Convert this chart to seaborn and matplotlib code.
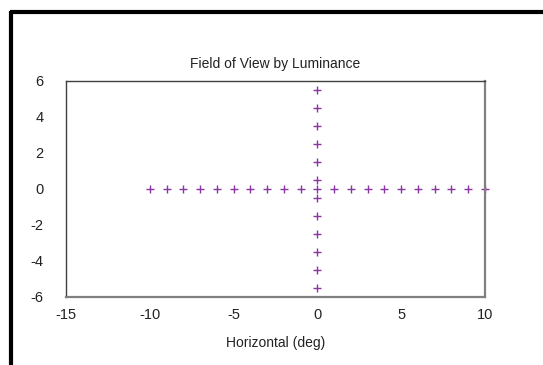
import matplotlib
matplotlib.use("Agg")
import matplotlib.pyplot as plt
from matplotlib.lines import Line2D
import numpy as np
import pandas as pd
import seaborn as sns

# Test points along the horizontal meridian (y = 0)
horiz_x = [-10, -9, -8, -7, -6, -5, -4, -3, -2, -1, 0, 1, 2, 3, 4, 5, 6, 7, 8, 9, 10]
horiz_y = [0] * len(horiz_x)

# Test points along the vertical meridian (x = 0)
vert_y = [5.5, 4.5, 3.5, 2.5, 1.5, 0.5, -0.5, -1.5, -2.5, -3.5, -4.5, -5.5]
vert_x = [0] * len(vert_y)

x_ticks = [-15, -10, -5, 0, 5, 10]
y_ticks = [-6, -4, -2, 0, 2, 4, 6]

df = pd.DataFrame({
    "x": horiz_x + vert_x,
    "y": horiz_y + vert_y,
})

sns.set_style("white")
plt.rcParams["font.family"] = ["Liberation Sans", "DejaVu Sans"]
plt.rcParams["axes.unicode_minus"] = False

W, H = 543, 365
fig = plt.figure(figsize=(W / 100, H / 100), dpi=100)
fig.patch.set_facecolor("white")

ax = fig.add_axes([66 / W, 1 - 296.5 / H, (485 - 66) / W, (296.5 - 80.5) / H])

sns.scatterplot(data=df, x="x", y="y", ax=ax, marker="+", s=26,
                color="#8a36a0", linewidth=1.0, legend=False, clip_on=False)

ax.set_xlim(-15, 10)
ax.set_ylim(-6, 6)
ax.set_xticks(x_ticks)
ax.set_yticks(y_ticks)
ax.tick_params(axis="both", length=0, labelsize=10.5, colors="#222222", pad=8)
ax.tick_params(axis="y", pad=16)

for side in ["top", "left"]:
    ax.spines[side].set_color("#404040")
    ax.spines[side].set_linewidth(1.0)
for side in ["bottom", "right"]:
    ax.spines[side].set_color("#808080")
    ax.spines[side].set_linewidth(1.6)

ax.set_xlabel("Horizontal (deg)", fontsize=10, color="#222222", labelpad=10)
ax.set_ylabel("")
ax.set_title("Field of View by Luminance", fontsize=10, color="#222222", pad=9)

# Heavy frame along the top and left edge of the figure
fig.add_artist(Line2D([9.5 / W, 1.0], [1 - 12 / H, 1 - 12 / H],
                      transform=fig.transFigure, color="black", linewidth=3.0,
                      solid_capstyle="butt"))
fig.add_artist(Line2D([10.5 / W, 10.5 / W], [1 - 10.5 / H, 0.0],
                      transform=fig.transFigure, color="black", linewidth=3.0,
                      solid_capstyle="butt"))

fig.savefig("out.png", dpi=100, facecolor="white")
